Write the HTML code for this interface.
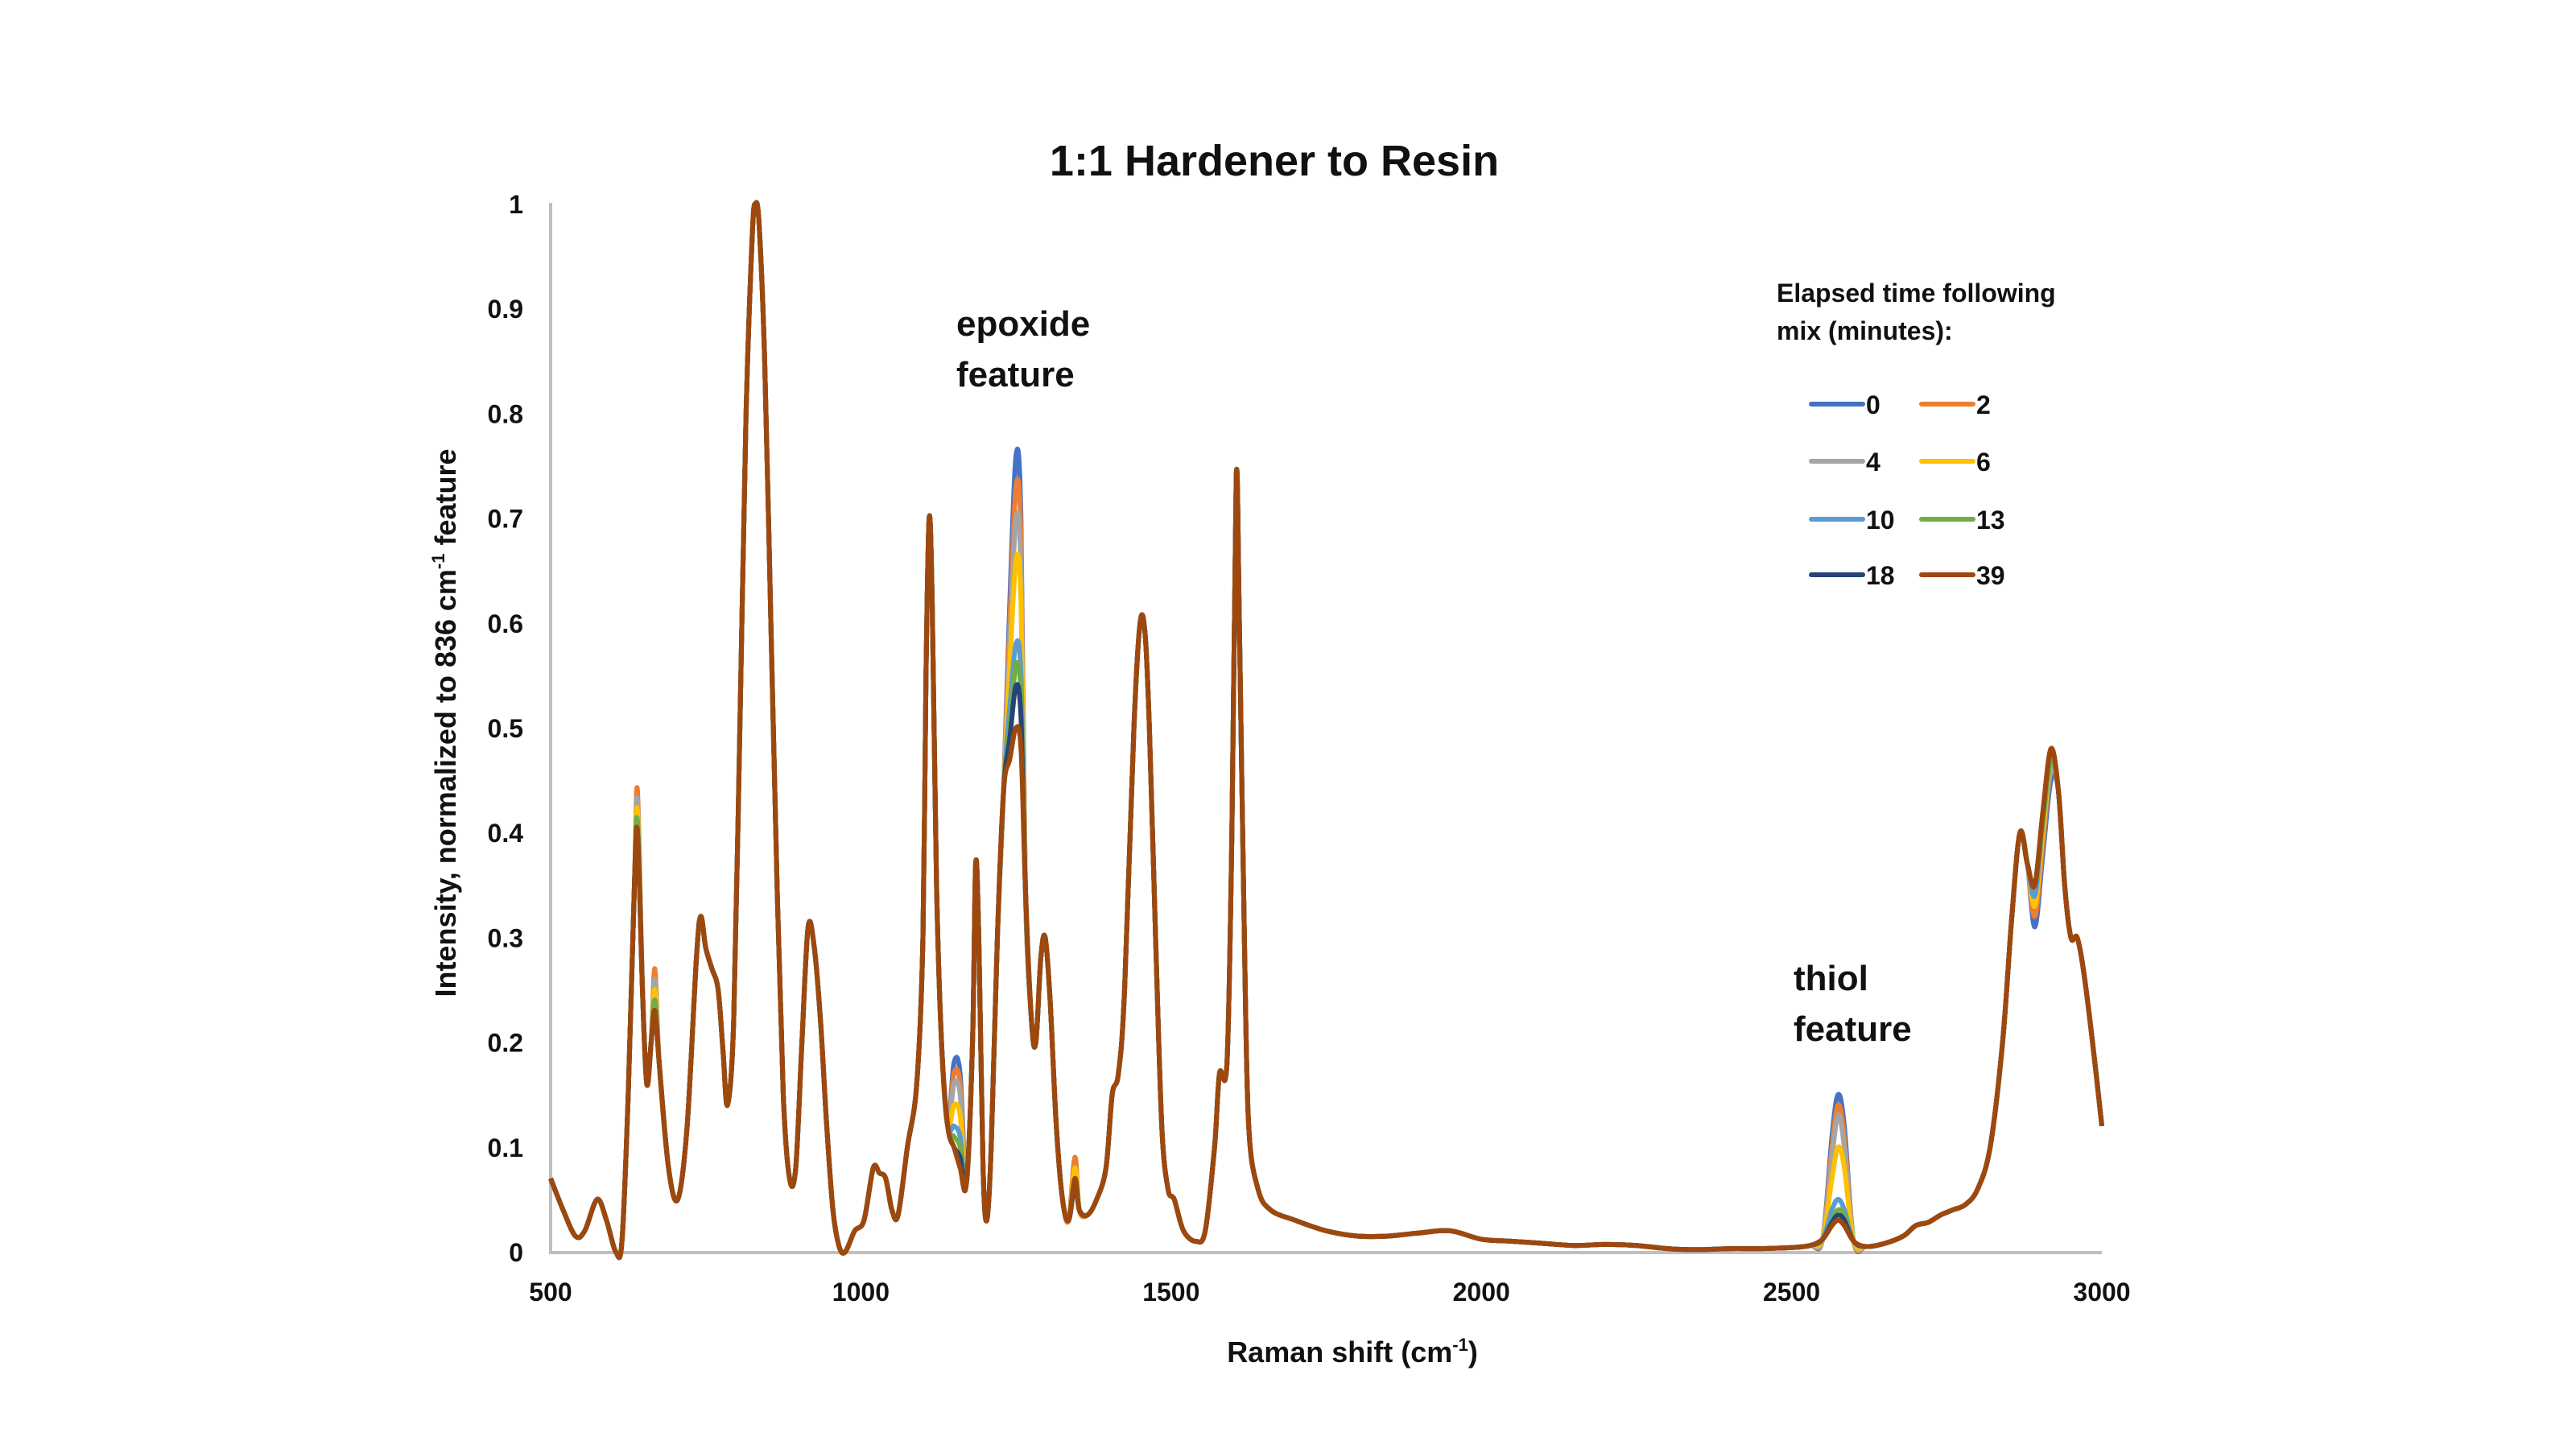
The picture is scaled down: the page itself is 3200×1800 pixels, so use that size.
<!DOCTYPE html>
<html><head><meta charset="utf-8"><style>
html,body{margin:0;padding:0;background:#fff;}
svg{display:block;font-family:"Liberation Sans",sans-serif;font-weight:bold;}
</style></head><body>
<svg id="chart" width="3200" height="1800" viewBox="0 0 3200 1800" xmlns="http://www.w3.org/2000/svg">
<rect width="3200" height="1800" fill="#fff"/>
<text x="1583" y="218" font-size="54" text-anchor="middle" fill="#111">1:1 Hardener to Resin</text>
<g id="yticks"></g>
<g id="xticks"></g>
<line x1="684" y1="252" x2="684" y2="1556" stroke="#bfbfbf" stroke-width="4"/>
<line x1="682" y1="1556" x2="2611" y2="1556" stroke="#bfbfbf" stroke-width="4"/>
<text transform="translate(566,898) rotate(-90)" font-size="36" text-anchor="middle" fill="#111">Intensity, normalized to 836 cm<tspan font-size="22" dy="-14">-1</tspan><tspan dy="14"> feature</tspan></text>
<text x="1680" y="1692" font-size="36" text-anchor="middle" fill="#111">Raman shift (cm<tspan font-size="22" dy="-14">-1</tspan><tspan dy="14">)</tspan></text>
<g id="series"></g>
<text font-size="44" fill="#111"><tspan x="1188" y="417">epoxide</tspan><tspan x="1188" y="480">feature</tspan></text>
<text font-size="44" fill="#111"><tspan x="2228" y="1230">thiol</tspan><tspan x="2228" y="1293">feature</tspan></text>
<g>
<text font-size="32" fill="#111"><tspan x="2207" y="375">Elapsed time following</tspan><tspan x="2207" y="422">mix (minutes):</tspan></text>
<g id="legend-entries"></g>
</g>
</svg>
<script>
const xs=[500,520,540,555,575,590,605,615,625,635,640,648,655,662,668,675,690,705,720,735,742,750,760,770,778,785,795,805,815,825,830,836,845,855,865,875,885,895,905,915,925,935,945,955,965,975,990,1005,1020,1030,1040,1050,1060,1075,1090,1100,1105,1110,1115,1122,1130,1140,1150,1160,1170,1180,1185,1190,1197,1203,1210,1220,1230,1240,1250,1258,1265,1275,1282,1290,1297,1305,1315,1325,1335,1345,1352,1365,1380,1395,1405,1415,1425,1440,1450,1458,1465,1475,1485,1495,1505,1520,1540,1555,1570,1578,1590,1598,1605,1610,1618,1625,1640,1660,1700,1750,1800,1850,1900,1950,2000,2050,2100,2150,2200,2250,2300,2350,2400,2450,2500,2530,2550,2565,2575,2585,2600,2620,2650,2680,2700,2720,2740,2760,2780,2800,2820,2840,2855,2868,2880,2892,2905,2918,2930,2940,2950,2960,2970,2985,3000];
const base=[0.07,0.04,0.015,0.02,0.05,0.03,0.0,0.01,0.15,0.35,0.40,0.25,0.16,0.2,0.23,0.18,0.08,0.05,0.12,0.28,0.32,0.29,0.27,0.25,0.19,0.14,0.22,0.5,0.8,0.97,1.0,0.98,0.85,0.6,0.35,0.15,0.07,0.08,0.2,0.31,0.29,0.22,0.12,0.04,0.005,0.0,0.02,0.03,0.08,0.075,0.07,0.04,0.035,0.1,0.16,0.3,0.55,0.70,0.62,0.35,0.2,0.12,0.1,0.08,0.065,0.2,0.37,0.30,0.08,0.03,0.1,0.3,0.44,0.47,0.50,0.48,0.35,0.22,0.2,0.28,0.30,0.24,0.12,0.05,0.03,0.07,0.04,0.035,0.05,0.08,0.15,0.17,0.25,0.5,0.6,0.59,0.5,0.3,0.12,0.06,0.05,0.02,0.01,0.02,0.1,0.17,0.18,0.4,0.74,0.6,0.3,0.12,0.06,0.04,0.03,0.02,0.015,0.015,0.018,0.02,0.012,0.01,0.008,0.006,0.007,0.006,0.003,0.002,0.003,0.003,0.004,0.006,0.012,0.025,0.03,0.025,0.01,0.005,0.008,0.015,0.025,0.028,0.035,0.04,0.045,0.06,0.1,0.2,0.32,0.40,0.37,0.35,0.42,0.48,0.44,0.35,0.3,0.3,0.27,0.2,0.12];
const ovX=[640,668,1150,1160,1240,1250,1258,1345,2565,2575,2585,2892,2905,2918];
const seriesNames=["0","2","4","6","10","13","18","39"];
const s0=[0.42,0.25,0.18,0.17,0.62,0.76,0.70,0.09,0.11,0.15,0.12,0.31,0.38,0.45];
const s2=[0.44,0.27,0.17,0.16,0.60,0.73,0.68,0.09,0.10,0.14,0.11,0.32,0.39,0.46];
const s4=[0.43,0.26,0.16,0.15,0.58,0.70,0.65,0.08,0.09,0.13,0.10,0.33,0.40,0.46];
const s6=[0.42,0.25,0.14,0.13,0.56,0.66,0.62,0.08,0.07,0.10,0.08,0.33,0.40,0.47];
const s10=[0.41,0.24,0.12,0.11,0.52,0.58,0.55,0.07,0.04,0.05,0.04,0.34,0.41,0.47];
const s13=[0.41,0.24,0.11,0.10,0.50,0.56,0.53,0.07,0.03,0.04,0.035,0.35,0.41,0.47];
const s18=[0.40,0.23,0.10,0.09,0.49,0.54,0.51,0.065,0.028,0.035,0.03,0.35,0.42,0.48];
const s39=[0.40,0.23,0.10,0.08,0.47,0.50,0.48,0.07,0.025,0.03,0.025,0.35,0.42,0.48];
const overrides=[s0,s2,s4,s6,s10,s13,s18,s39];
const yTickLabels=["0","0.1","0.2","0.3","0.4","0.5","0.6","0.7","0.8","0.9","1"];
const yTickValues=[0,0.1,0.2,0.3,0.4,0.5,0.6,0.7,0.8,0.9,1];
const xTickValues=[500,1000,1500,2000,2500,3000];
const colors=["#4472C4","#ED7D31","#A5A5A5","#FFC000","#5B9BD5","#70AD47","#264478","#9E480E"];

const NS="http://www.w3.org/2000/svg";
const X=v=>684+(v-500)*(2611-684)/2500;
const Y=v=>1555-v*(1555-253);

const yt=document.getElementById('yticks');
yTickValues.forEach((v,i)=>{const t=document.createElementNS(NS,'text');


t.setAttribute('x',650);t.setAttribute('y',Y(v)+12);t.setAttribute('text-anchor','end');t.setAttribute('font-size','32');t.setAttribute('fill','#111');t.textContent=yTickLabels[i];yt.appendChild(t);});
const xt=document.getElementById('xticks');
xTickValues.forEach(v=>{const t=document.createElementNS(NS,'text');


t.setAttribute('x',X(v));t.setAttribute('y',1616);t.setAttribute('text-anchor','middle');t.setAttribute('font-size','32');t.setAttribute('fill','#111');t.textContent=String(v);xt.appendChild(t);});

function pathFor(vals){const p=xs.map((x,i)=>[X(x),Y(vals[i])]);let d='M'+p[0][0].toFixed(1)+','+p[0][1].toFixed(1);
for(let i=0;i<p.length-1;i++){const p0=p[Math.max(0,i-1)],p1=p[i],p2=p[i+1],p3=p[Math.min(p.length-1,i+2)];
const c1=[p1[0]+(p2[0]-p0[0])/6,p1[1]+(p2[1]-p0[1])/6],c2=[p2[0]-(p3[0]-p1[0])/6,p2[1]-(p3[1]-p1[1])/6];
d+='C'+c1[0].toFixed(1)+','+c1[1].toFixed(1)+' '+c2[0].toFixed(1)+','+c2[1].toFixed(1)+' '+p2[0].toFixed(1)+','+p2[1].toFixed(1);}return d;}
const sg=document.getElementById('series');
overrides.forEach((ov,k)=>{const vals=base.slice();ovX.forEach((x,j)=>{const i=xs.indexOf(x);if(i>=0)vals[i]=ov[j];});
const p=document.createElementNS(NS,'path');


p.setAttribute('d',pathFor(vals));p.setAttribute('fill','none');p.setAttribute('stroke',colors[k]);p.setAttribute('stroke-width','6');p.setAttribute('stroke-linejoin','round');sg.appendChild(p);});

const lg=document.getElementById('legend-entries');
const rowsY=[502,573,645,714];
seriesNames.forEach((n,k)=>{const col=k%2,row=Math.floor(k/2);const x0=col?2387:2250;const y=rowsY[row];
const g=document.createElementNS(NS,'g');


const l=document.createElementNS(NS,'line');l.setAttribute('x1',x0);l.setAttribute('x2',x0+64);l.setAttribute('y1',y);l.setAttribute('y2',y);l.setAttribute('stroke',colors[k]);l.setAttribute('stroke-width','6');l.setAttribute('stroke-linecap','round');
const t=document.createElementNS(NS,'text');t.setAttribute('x',x0+68);t.setAttribute('y',y+12);t.setAttribute('font-size','32');t.setAttribute('fill','#111');t.textContent=n;
g.appendChild(l);g.appendChild(t);lg.appendChild(g);});
</script>
</body></html>
